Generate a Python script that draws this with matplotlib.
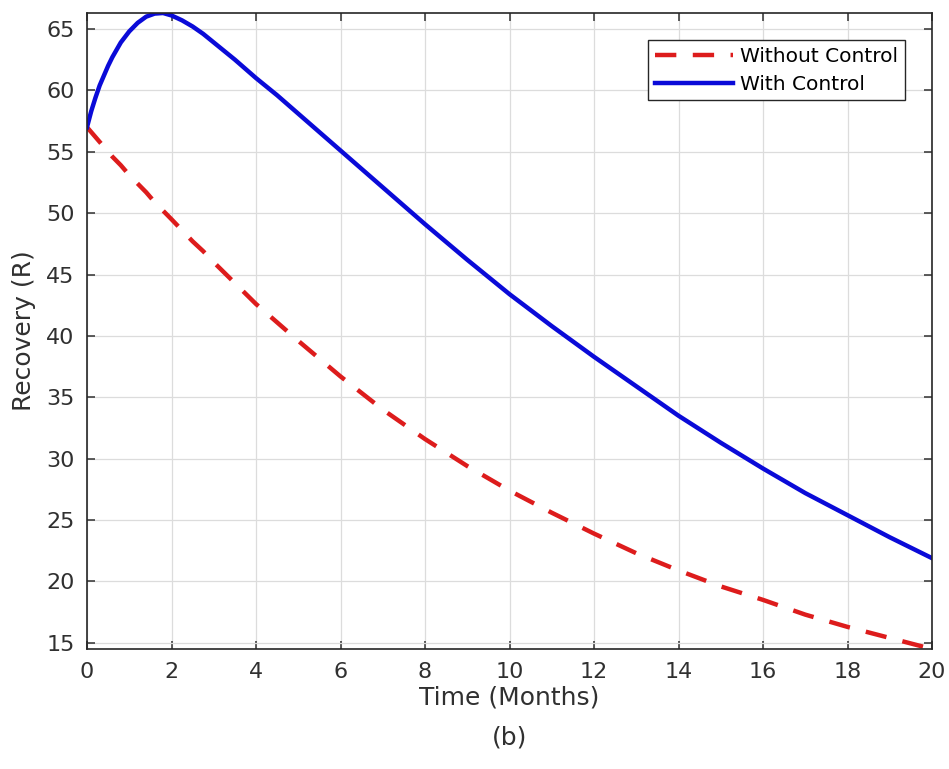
import numpy as np
import matplotlib.pyplot as plt

plt.rcParams['font.family'] = ['DejaVu Sans']

# time points (months)
t = [0, 0.1, 0.2, 0.3, 0.4, 0.5, 0.6, 0.8, 1.0, 1.2, 1.4, 1.6, 1.8, 2.0, 2.25, 2.5, 2.75,
     3.0, 3.5, 4, 4.5, 5, 6, 7, 8, 9, 10, 11, 12, 13, 14, 15, 16, 17, 18, 19, 20]

with_control = [57.0, 58.3, 59.4, 60.4, 61.2, 62.0, 62.7, 63.9, 64.8, 65.5, 66.0, 66.25, 66.3, 66.1,
                65.7, 65.2, 64.6, 63.9, 62.5, 61.0, 59.6, 58.1, 55.1, 52.1, 49.1, 46.2, 43.4,
                40.8, 38.3, 35.9, 33.5, 31.3, 29.2, 27.2, 25.4, 23.6, 21.9]

without_control = [57.0, 56.6, 56.2, 55.8, 55.4, 55.0, 54.6, 53.9, 53.1, 52.4, 51.7, 50.9, 50.2, 49.5,
                   48.6, 47.7, 46.9, 46.0, 44.3, 42.6, 41.1, 39.6, 36.7, 34.0, 31.6, 29.4, 27.4,
                   25.6, 23.9, 22.3, 20.9, 19.6, 18.5, 17.3, 16.3, 15.4, 14.5]

fig = plt.figure(figsize=(9.49, 7.69), dpi=100)
ax = fig.add_axes([87 / 949, 1 - 649 / 769, (932 - 87) / 949, (649 - 13) / 769])

ax.plot(t, without_control, color='#dd1c1c', linestyle=(0, (4.8, 3.7)), linewidth=3.2,
        label='Without Control')
ax.plot(t, with_control, color='#0a0ad8', linewidth=3.2, label='With Control')

ax.set_xlim(0, 20)
ax.set_ylim(14.5, 66.3)
ax.set_xticks(np.arange(0, 21, 2))
ax.set_yticks(np.arange(15, 66, 5))
ax.grid(True, color='#dcdcdc', linewidth=0.9)
ax.set_axisbelow(True)
ax.tick_params(direction='in', top=True, right=True, length=6, width=1.1,
               labelsize=16, colors='#303030', pad=9)
for s in ax.spines.values():
    s.set_color('#262626')
    s.set_linewidth(1.2)

ax.set_xlabel('Time (Months)', fontsize=18, color='#303030', labelpad=3)
ax.set_ylabel('Recovery (R)', fontsize=18, color='#303030', labelpad=7)
fig.text((87 + 932) / 2 / 949, 1 - 738 / 769, '(b)', ha='center', va='center',
         fontsize=18, color='#303030')

leg = ax.legend(loc='upper right', bbox_to_anchor=(0.968, 0.9575), fontsize=14.5, frameon=True,
                fancybox=False, edgecolor='#262626', framealpha=1, handlelength=3.9,
                handletextpad=0.35, borderpad=0.33, labelspacing=0.45, borderaxespad=0)
leg.get_frame().set_linewidth(1.0)

fig.savefig('out.png', dpi=100)
